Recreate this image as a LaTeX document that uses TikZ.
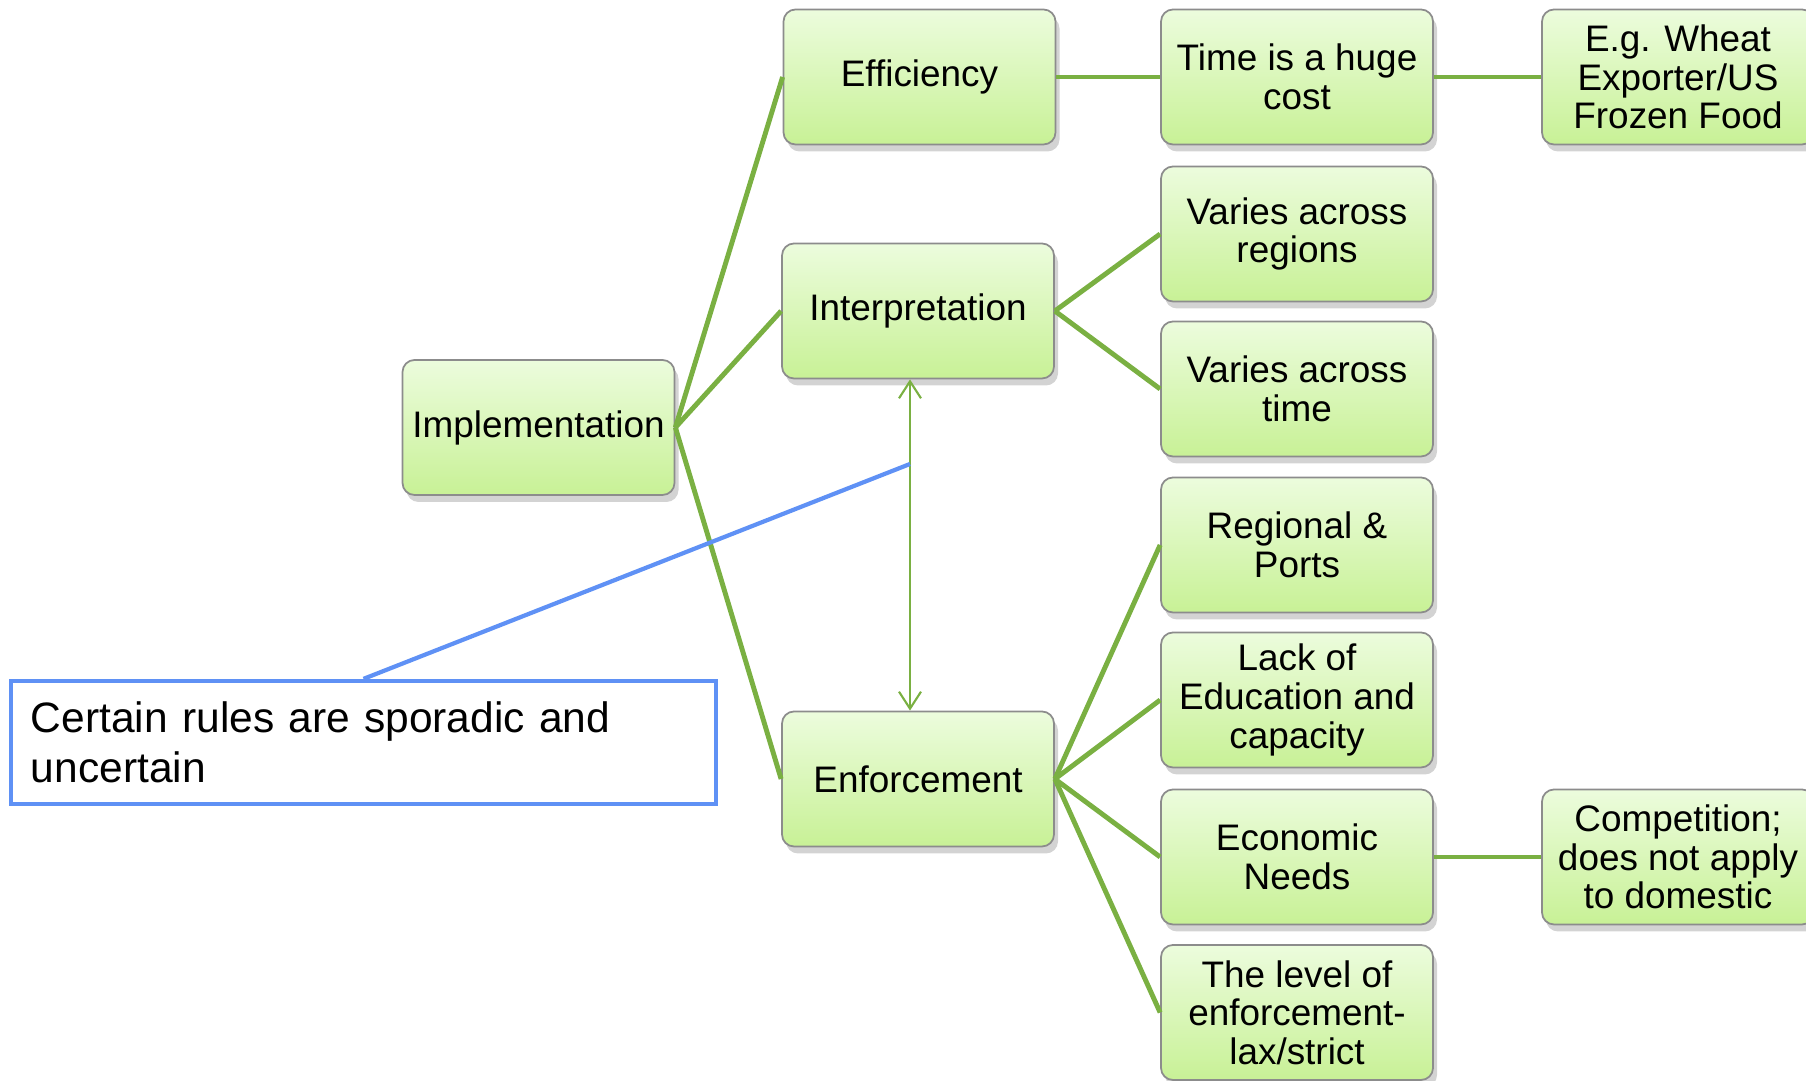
\documentclass[tikz,border=0pt]{standalone}
\usepackage{fontspec}
\setmainfont{Liberation Sans}
\usetikzlibrary{arrows.meta,shadows}
\definecolor{leafgreen}{RGB}{122,176,66}
\definecolor{boxedge}{RGB}{140,140,140}
\definecolor{boxtop}{RGB}{236,252,221}
\definecolor{boxbot}{RGB}{200,241,150}
\definecolor{noteblue}{RGB}{95,145,245}
\tikzset{
  idea/.style={rectangle,rounded corners=1.2mm,draw=boxedge,line width=0.5pt,
    top color=boxtop,bottom color=boxbot,minimum width=2.72cm,minimum height=1.35cm,
    align=center,inner sep=1pt,font=\fontsize{10.5}{11}\selectfont,
    drop shadow={shadow xshift=0.4mm,shadow yshift=-0.7mm,opacity=0.35}},
  link/.style={draw=leafgreen,line width=1.4pt},
  twoway/.style={draw=leafgreen,line width=0.6pt,
    {Straight Barb[length=1.7mm,width=2.2mm]}-{Straight Barb[length=1.7mm,width=2.2mm]}},
  note/.style={rectangle,draw=noteblue,line width=1.2pt,minimum width=7.05cm,
    minimum height=1.23cm,text width=6.65cm,align=left,
    font=\fontsize{12.1}{14.4}\selectfont},
  pointer/.style={draw=noteblue,line width=1.2pt}
}
\begin{document}
\begin{tikzpicture}
\useasboundingbox (0,0) rectangle (18.06,-10.81);
% first two levels
\node[idea] (impl) at (5.385,-4.275) {Implementation};
\node[idea] (eff) at (9.195,-0.77) {Efficiency};
\node[idea] (interp) at (9.18,-3.11) {Interpretation};
\node[idea] (enf) at (9.18,-7.79) {Enforcement};
% third column
\node[idea] (cost) at (12.97,-0.77) {Time is a huge\\cost};
\node[idea] (regions) at (12.97,-2.34) {Varies across\\regions};
\node[idea] (vtime) at (12.97,-3.89) {Varies across\\time};
\node[idea] (ports) at (12.97,-5.45) {Regional \&\\Ports};
\node[idea] (edu) at (12.97,-7.00) {Lack of\\Education and\\capacity};
\node[idea] (econ) at (12.97,-8.57) {Economic\\Needs};
\node[idea] (level) at (12.97,-10.125) {The level of\\enforcement-\\lax/strict};
% fourth column
\node[idea] (wheat) at (16.78,-0.77) {E.g. Wheat\\Exporter/US\\Frozen Food};
\node[idea] (compet) at (16.78,-8.57) {Competition;\\does not apply\\to domestic};
% connectors
\draw[link] (impl.east) -- (eff.west);
\draw[link] (impl.east) -- (interp.west);
\draw[link] (impl.east) -- (enf.west);
\draw[link] (eff.east) -- (cost.west);
\draw[link] (cost.east) -- (wheat.west);
\draw[link] (interp.east) -- (regions.west);
\draw[link] (interp.east) -- (vtime.west);
\draw[link] (enf.east) -- (ports.west);
\draw[link] (enf.east) -- (edu.west);
\draw[link] (enf.east) -- (econ.west);
\draw[link] (enf.east) -- (level.west);
\draw[link] (econ.east) -- (compet.west);
% callout
\coordinate (tip) at (9.10,-4.64);
\draw[twoway] (tip |- interp.south) -- (tip |- enf.north);
\node[note] (rules) at (3.635,-7.425) {Certain rules are sporadic and\\uncertain};
\draw[pointer] (rules.north) -- (tip);
\end{tikzpicture}
\end{document}
